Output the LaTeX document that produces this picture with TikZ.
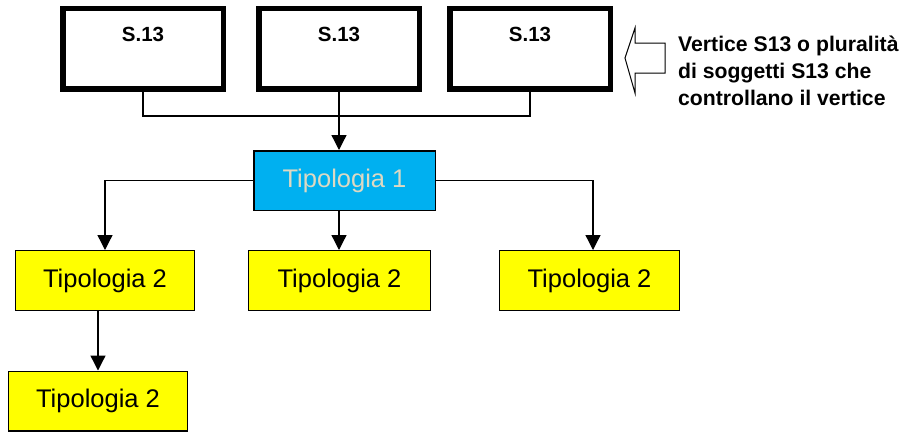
\documentclass[tikz,border=0pt]{standalone}
\usepackage{fontspec}
\setmainfont{Liberation Sans}
\usetikzlibrary{arrows.meta,positioning,calc}
\definecolor{tyellow}{HTML}{FFFF00}
\definecolor{tblue}{HTML}{00B0F0}
\definecolor{tbeige}{HTML}{DDD9C3}
\begin{document}
\begin{tikzpicture}[x=1pt,y=-1pt,
  sbox/.style={draw=black,line width=5.5pt,fill=white,minimum width=160.5pt,minimum height=80.2pt,inner sep=0pt},
  slabel/.style={font=\fontsize{20.5}{24}\selectfont\bfseries,anchor=base,yshift=-36pt,inner sep=0pt},
  t1box/.style={draw=black,line width=1.5pt,fill=tblue,text=tbeige,minimum width=181.5pt,minimum height=59.5pt,inner sep=0pt,font=\fontsize{25.5}{30}\selectfont},
  t2box/.style={draw=black,line width=1.2pt,fill=tyellow,text=black,minimum height=59.8pt,inner sep=0pt,font=\fontsize{25.5}{30}\selectfont},
  conn/.style={draw=black,line width=1.3pt},
  arr/.style={conn,-{Triangle[width=15pt,length=15pt]}},
  note/.style={font=\fontsize{21.2}{27}\selectfont\bfseries,align=left,anchor=north west,inner sep=0pt}
]
\useasboundingbox (0,0) rectangle (905,432);
% top boxes
\node[sbox,label={[slabel]north:S.13}] (s1) at (143,48.75) {};
\node[sbox,label={[slabel]north:S.13}] (s2) at (339,48.75) {};
\node[sbox,label={[slabel]north:S.13}] (s3) at (530,48.75) {};
% tipologia 1
\node[t1box] (t1) at (344.5,180.5) {Tipologia 1};
% tipologia 2
\node[t2box,minimum width=178.8pt] (l) at (105,280.5) {Tipologia 2};
\node[t2box,minimum width=181.8pt] (m) at (339.5,280.5) {Tipologia 2};
\node[t2box,minimum width=179.8pt] (r) at (589.5,280.5) {Tipologia 2};
\node[t2box,minimum width=178.8pt] (b) at (98,401) {Tipologia 2};
% connectors
\coordinate (bus) at (0,116);
\draw[conn] (s1.south) -- (s1.south |- bus) -- (s3.south |- bus) -- (s3.south);
\draw[arr] (s2.south) -- (s2.south |- t1.north);
\draw[arr] (t1.west) -| (l.north);
\draw[arr] (t1.east) -| ([xshift=3.5pt]r.north);
\draw[arr] (t1.south -| s2.south) -- (m.north -| s2.south);
\draw[arr] (l.south -| b.north) -- (b.north);
% block arrow
\draw[line width=1pt,fill=white] (625,58) -- (635,28) -- (635,43) -- (665,43) -- (665,73) -- (635,73) -- (635,93) -- cycle;
% note
\node[note] (txt) at (678,36) {Vertice S13 o pluralità\\di soggetti S13 che\\controllano il vertice};
\end{tikzpicture}
\end{document}
